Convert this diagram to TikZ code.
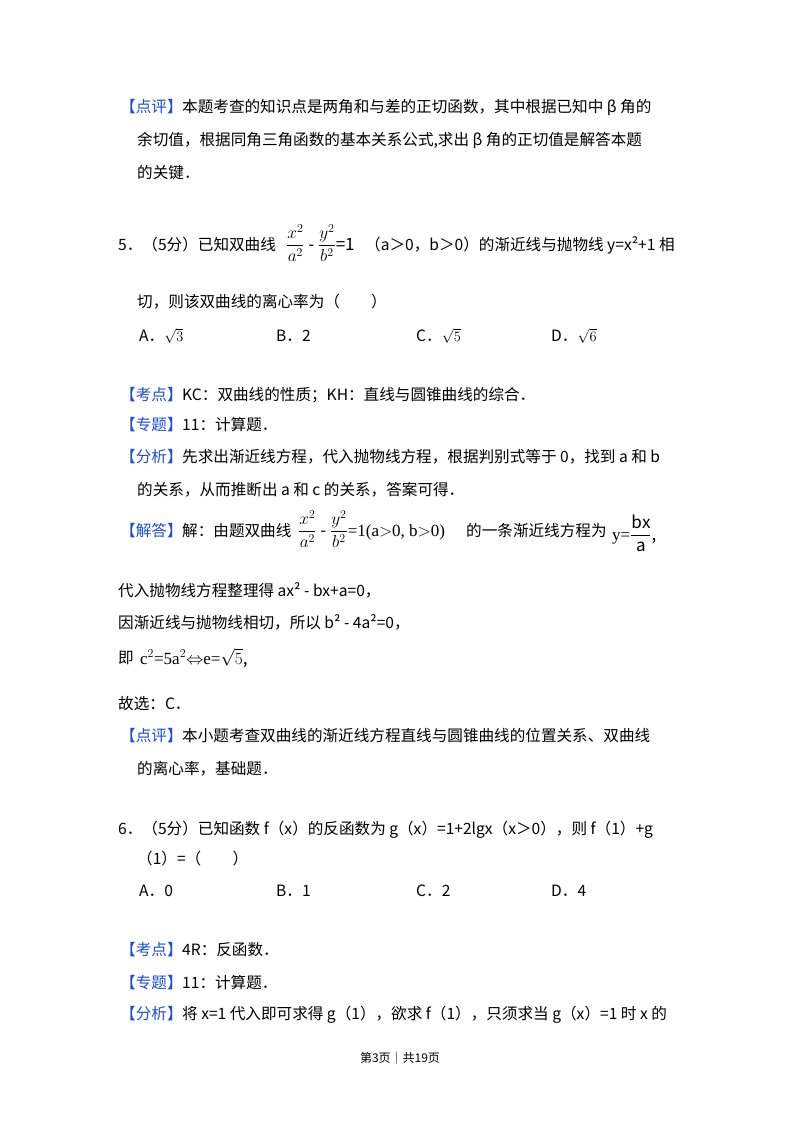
\documentclass[tikz,border=0pt]{standalone}
\usepackage{fontspec}
\setmainfont{Noto Sans CJK SC}
\newfontfamily\serifm{Liberation Serif}
\definecolor{lbl}{HTML}{1F4FD0}
\begin{document}
\begin{tikzpicture}[x=1pt,y=1pt,
  t/.style={anchor=base west,inner sep=0pt,font=\fontsize{15.6}{17}\selectfont},
  L/.style={t,text=lbl},
  m/.style={anchor=base west,inner sep=0pt,font=\fontsize{17}{18}\selectfont}]
\useasboundingbox (0,0) rectangle (800,-1132);
\fill[white] (0,0) rectangle (800,-1132);
% block 1
\node[L] (a1) at (120,-112) {【点评】};
\node[t] (a2) at (182,-112) {本题考查的知识点是两角和与差的正切函数，其中根据已知中 β 角的};
\node[t] (a3) at (137,-145) {余切值，根据同角三角函数的基本关系公式,求出 β 角的正切值是解答本题};
\node[t] (a4) at (137,-178) {的关键．};
% Q5
\node[t] (q1) at (118,-250) {5．（5分）已知双曲线};
\node[m] (q1f) at (286,-250) {$\displaystyle\frac{x^2}{a^2}$ - $\displaystyle\frac{y^2}{b^2}$=1};
\node[t] (q1b) at (365,-250) {（a＞0，b＞0）的渐近线与抛物线 y=x²+1 相};
\node[t] (q2) at (137,-307) {切，则该双曲线的离心率为（　　）};
\node[t] (oa) at (139,-341) {A．$\sqrt{3}$};
\node[t] (ob) at (276,-341) {B．2};
\node[t] (oc) at (416,-341) {C．$\sqrt{5}$};
\node[t] (od) at (551,-341) {D．$\sqrt{6}$};
% analysis
\node[L] (k1) at (120,-400) {【考点】};
\node[t] (k2) at (182,-400) {KC：双曲线的性质；KH：直线与圆锥曲线的综合．};
\node[L] (z1) at (120,-430) {【专题】};
\node[t] (z2) at (182,-430) {11：计算题．};
\node[L] (f1) at (120,-462) {【分析】};
\node[t] (f2) at (182,-462) {先求出渐近线方程，代入抛物线方程，根据判别式等于 0，找到 a 和 b};
\node[t] (f3) at (137,-495) {的关系，从而推断出 a 和 c 的关系，答案可得．};
\node[L] (j1) at (120,-536) {【解答】};
\node[t] (j2) at (182,-536) {解：由题双曲线};
\node[m] (j2f) at (298,-536) {$\displaystyle\frac{x^2}{a^2}$ - $\displaystyle\frac{y^2}{b^2}${\serifm =1(a$>$0, b$>$0)}};
\node[t] (j2b) at (466,-536) {的一条渐近线方程为};
\node[m] (j2g) at (612,-540) {{\serifm y=}$\displaystyle\frac{\mathrm{bx}}{\mathrm{a}}$,};
\node[t] (d1) at (118,-596) {代入抛物线方程整理得 ax² - bx+a=0，};
\node[t] (d2) at (118,-628) {因渐近线与抛物线相切，所以 b² - 4a²=0，};
\node[t] (d3) at (118,-663) {即};
\node[m] (d3f) at (140,-664) {{\serifm c$^2$=5a$^2$}$\Leftrightarrow${\serifm e=}$\sqrt{5}$,};
\node[t] (g1) at (118,-709) {故选：C．};
\node[L] (p1) at (120,-741) {【点评】};
\node[t] (p2) at (182,-741) {本小题考查双曲线的渐近线方程直线与圆锥曲线的位置关系、双曲线};
\node[t] (p3) at (137,-774) {的离心率，基础题．};
% Q6
\node[t] (r1) at (118,-834) {6．（5分）已知函数 f（x）的反函数为 g（x）=1+2lgx（x＞0），则 f（1）+g};
\node[t] (r2) at (137,-864) {（1）=（　　）};
\node[t] (ra) at (139,-896) {A．0};
\node[t] (rb) at (276,-896) {B．1};
\node[t] (rc) at (416,-896) {C．2};
\node[t] (rd) at (551,-896) {D．4};
\node[L] (s1) at (120,-955) {【考点】};
\node[t] (s2) at (182,-955) {4R：反函数．};
\node[L] (s3) at (120,-988) {【专题】};
\node[t] (s4) at (182,-988) {11：计算题．};
\node[L] (s5) at (120,-1019) {【分析】};
\node[t] (s6) at (182,-1019) {将 x=1 代入即可求得 g（1），欲求 f（1），只须求当 g（x）=1 时 x 的};
\node[anchor=base,inner sep=0pt,font=\fontsize{12}{14}\selectfont] (ft) at (400,-1062) {第3页｜共19页};
\end{tikzpicture}
\end{document}
